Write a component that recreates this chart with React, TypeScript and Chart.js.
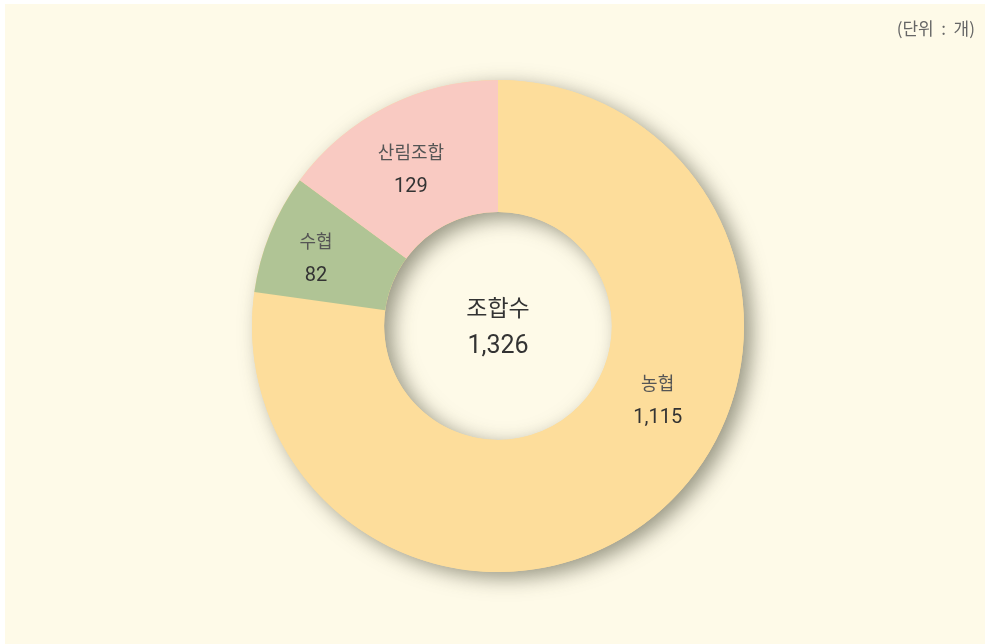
import React, { useEffect, useRef } from "react";
import { Chart, registerables } from "chart.js";

Chart.register(...registerables);

const categories = ["농협", "수협", "산림조합"];
const values = [1115, 82, 129];
// slice shares (%) as actually drawn in the reference picture
const sliceShares = [77.2, 7.9, 14.9];
const colors = ["#FDDD9B", "#B0C495", "#F9CAC2"];
const centerTitle = "조합수";
const unitText = "(단위  :  개)";

const BG = "#FEFAE8";
const KFONT = "'Noto Sans CJK KR', 'Noto Sans', sans-serif";
const NFONT = "Roboto, 'Noto Sans', sans-serif";

const fmt = (n: number) => n.toLocaleString("en-US");
const total = values.reduce((a, b) => a + b, 0);

// label placement: polar offset from chart centre (deg clockwise from top, fraction of outer radius)
const labelPlacement = [
  { angle: 114.8, r: 0.715 },
  { angle: 290.5, r: 0.79 },
  { angle: 331.0, r: 0.73 },
];

const backgroundPlugin = {
  id: "bgPanel",
  beforeDraw(chart: any) {
    const ctx = chart.ctx;
    ctx.save();
    ctx.fillStyle = "#FFFFFF";
    ctx.fillRect(0, 0, chart.width, chart.height);
    ctx.fillStyle = BG;
    ctx.fillRect(5, 4, chart.width - 5, chart.height - 4);
    ctx.fillStyle = "#666666";
    ctx.font = `17px ${KFONT}`;
    ctx.textAlign = "right";
    ctx.textBaseline = "middle";
    ctx.fillText(unitText, chart.width - 10, 29);
    ctx.restore();
  },
};

const shadowPlugin = {
  id: "ringShadow",
  beforeDatasetsDraw(chart: any) {
    const meta = chart.getDatasetMeta(0);
    const arc = meta.data[0];
    if (!arc) return;
    const { x, y, outerRadius, innerRadius } = arc.getProps(["x", "y", "outerRadius", "innerRadius"], true);
    const ctx = chart.ctx;
    ctx.save();
    ctx.shadowColor = "rgba(70,70,50,0.55)";
    ctx.shadowBlur = 20;
    ctx.shadowOffsetX = 8;
    ctx.shadowOffsetY = 6;
    ctx.fillStyle = colors[0];
    ctx.beginPath();
    ctx.arc(x, y, outerRadius, 0, Math.PI * 2);
    ctx.arc(x, y, innerRadius, 0, Math.PI * 2, true);
    ctx.closePath();
    ctx.fill();
    ctx.restore();
  },
};

const labelsPlugin = {
  id: "sliceLabels",
  afterDatasetsDraw(chart: any) {
    const meta = chart.getDatasetMeta(0);
    const arc = meta.data[0];
    if (!arc) return;
    const { x, y, outerRadius } = arc.getProps(["x", "y", "outerRadius"], true);
    const ctx = chart.ctx;
    ctx.save();
    ctx.textAlign = "center";
    ctx.textBaseline = "middle";
    categories.forEach((name, i) => {
      const p = labelPlacement[i];
      const a = (p.angle * Math.PI) / 180;
      const cx = x + Math.sin(a) * p.r * outerRadius;
      const cy = y - Math.cos(a) * p.r * outerRadius;
      ctx.fillStyle = "#555555";
      ctx.font = `18px ${KFONT}`;
      ctx.fillText(name, cx, cy - 17);
      ctx.fillStyle = "#333333";
      ctx.font = `20px ${NFONT}`;
      ctx.fillText(fmt(values[i]), cx, cy + 18);
    });
    ctx.fillStyle = "#333333";
    ctx.font = `23px ${KFONT}`;
    ctx.fillText(centerTitle, x, y - 19);
    ctx.font = `25px ${NFONT}`;
    ctx.fillText(fmt(total), x, y + 21);
    ctx.restore();
  },
};

export default function App() {
  const ref = useRef<HTMLCanvasElement | null>(null);
  useEffect(() => {
    document.body.style.margin = "0";
    if (!ref.current) return;
    const chart = new Chart(ref.current, {
      type: "doughnut",
      data: {
        labels: categories,
        datasets: [
          {
            data: sliceShares,
            backgroundColor: colors,
            borderWidth: 0,
            hoverOffset: 0,
          },
        ],
      },
      options: {
        animation: false,
        responsive: false,
        maintainAspectRatio: false,
        cutout: "46.3%",
        layout: { padding: { left: 252, right: 241, top: 80, bottom: 72 } },
        plugins: {
          legend: { display: false },
          tooltip: { enabled: false },
        },
      },
      plugins: [backgroundPlugin, shadowPlugin, labelsPlugin],
    });
    return () => chart.destroy();
  }, []);
  return (
    <div style={{ position: "fixed", left: 0, top: 0, width: 985, height: 644 }}>
      <canvas ref={ref} width={985} height={644} style={{ width: 985, height: 644, display: "block" }} />
    </div>
  );
}
